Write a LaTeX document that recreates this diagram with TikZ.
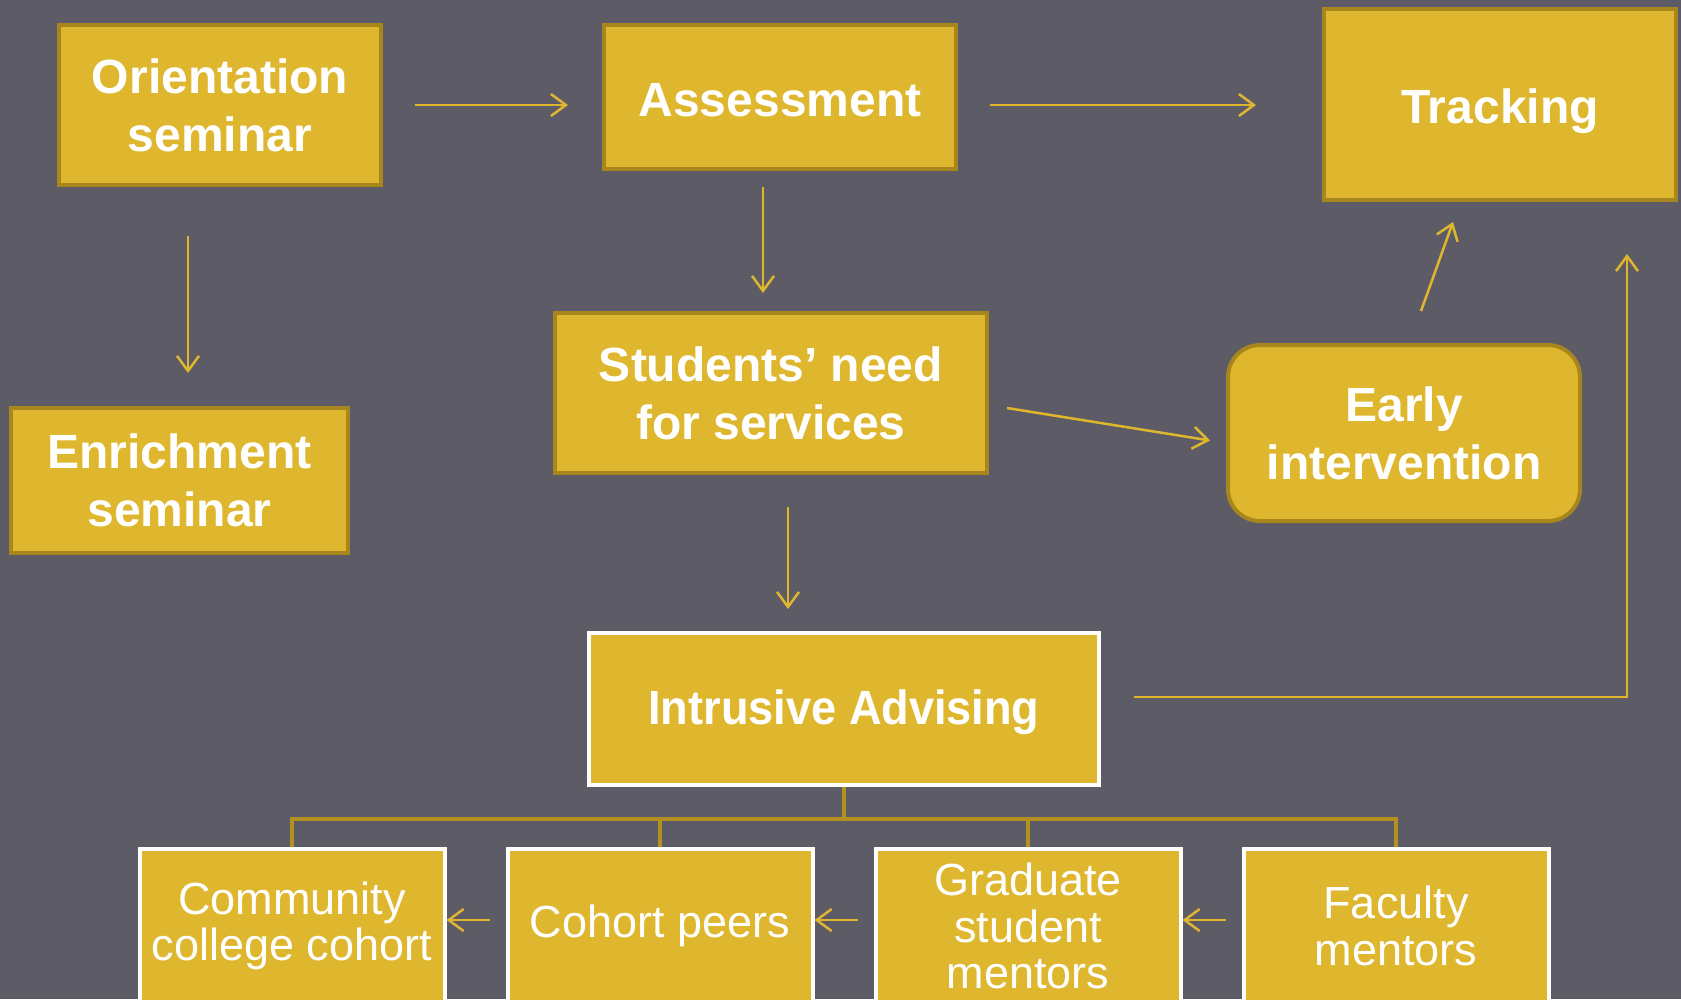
\documentclass[tikz,border=0pt]{standalone}
\usepackage{fontspec}
\usepackage{graphicx}
\setmainfont{Liberation Sans}
\usetikzlibrary{arrows.meta,calc}
\definecolor{bg}{HTML}{5C5B66}
\definecolor{gold}{HTML}{DFB72E}
\definecolor{goldedge}{HTML}{A8861E}
\definecolor{treeline}{HTML}{B48F22}
\begin{document}
\begin{tikzpicture}[x=1pt,y=-1pt,
  box/.style={draw=goldedge, line width=4pt, fill=gold, text=white,
    font=\bfseries\fontsize{48}{58}\selectfont, align=center, inner sep=0pt},
  wbox/.style={box, draw=white},
  leaf/.style={draw=white, line width=4pt, fill=gold, text=white,
    font=\fontsize{45}{46.5}\selectfont, align=center, inner sep=0pt,
    minimum width=305pt, minimum height=154pt},
  arr/.style={draw=gold, line width=2.5pt,
    -{Straight Barb[length=15pt,width=22pt,line width=2.5pt]}},
  tree/.style={draw=treeline, line width=3.5pt}]
\useasboundingbox (0,0) rectangle (1681,999);
\fill[bg] (0,0) rectangle (1681,999);
\clip (0,0) rectangle (1681,999);

% upper flow
\node[box, minimum width=322pt, minimum height=160pt] (ori) at (220,105) {Orientation\\seminar};
\node[box, minimum width=352pt, minimum height=144pt, text height=39pt, text depth=0pt] (ass) at (780,97) {Assessment};
\node[box, minimum width=352pt, minimum height=191pt, text height=37pt, text depth=0pt] (trk) at (1500,104.5) {Tracking};
\node[box, minimum width=337pt, minimum height=145pt] (enr) at (179.5,480.5) {Enrichment\\seminar};
\node[box, minimum width=432pt, minimum height=160pt] (stu) at (771,393) {Students’ need\\for services};
\node[box, rounded corners=32pt, minimum width=352pt, minimum height=176pt] (ear) at (1404,433) {Early\\intervention};
\node[wbox, minimum width=510pt, minimum height=152pt, text height=35pt, text depth=4pt] (int) at (844,709) {\scalebox{0.94}[1]{Intrusive Advising}};

% support row
\node[leaf] (b1) at (292,926) {Community\\college cohort};
\node[leaf] (b2) at (660,926) {Cohort peers};
\node[leaf] (b3) at (1028,926) {Graduate\\student\\mentors};
\node[leaf] (b4) at (1396,926) {Faculty\\mentors};

% arrows between stages
\draw[arr] ($(ori.east)+(32,0)$) -- ($(ass.west)+(-34,8)$);
\draw[arr] ($(ass.east)+(32,8)$) -- ($(trk.west)+(-66,0.5)$);
\draw[arr] ($(ori.south)+(-32,49)$) -- ($(enr.north)+(8.5,-33)$);
\draw[arr] ($(ass.south)+(-17,16)$) -- ($(stu.north)+(-8,-18)$);
\draw[arr] ($(stu.east)+(18,15)$) -- ($(ear.west)+(-16,7.5)$);
\draw[arr] ($(ear.north)+(17,-32)$) -- ($(trk.south)+(-47,20)$);
\draw[arr] ($(stu.south)+(17,32)$) -- ($(int.north)+(-56,-22)$);
\draw[arr] ($(int.east)+(33,-12)$) -| ($(trk.south)+(127,52)$);

% organisation tree under advising
\coordinate (hub) at ($(int.south)+(0,32)$);
\draw[tree] (int.south) -- (hub);
\draw[tree] (hub) -| (b1.north);
\draw[tree] (hub) -| (b2.north);
\draw[tree] (hub) -| (b3.north);
\draw[tree] (hub) -| (b4.north);

% arrows along the support row
\draw[arr] ($(b2.west)+(-16,-6)$) -- ($(b1.east)+(0,-6)$);
\draw[arr] ($(b3.west)+(-16,-6)$) -- ($(b2.east)+(0,-6)$);
\draw[arr] ($(b4.west)+(-16,-6)$) -- ($(b3.east)+(0,-6)$);
\end{tikzpicture}
\end{document}
